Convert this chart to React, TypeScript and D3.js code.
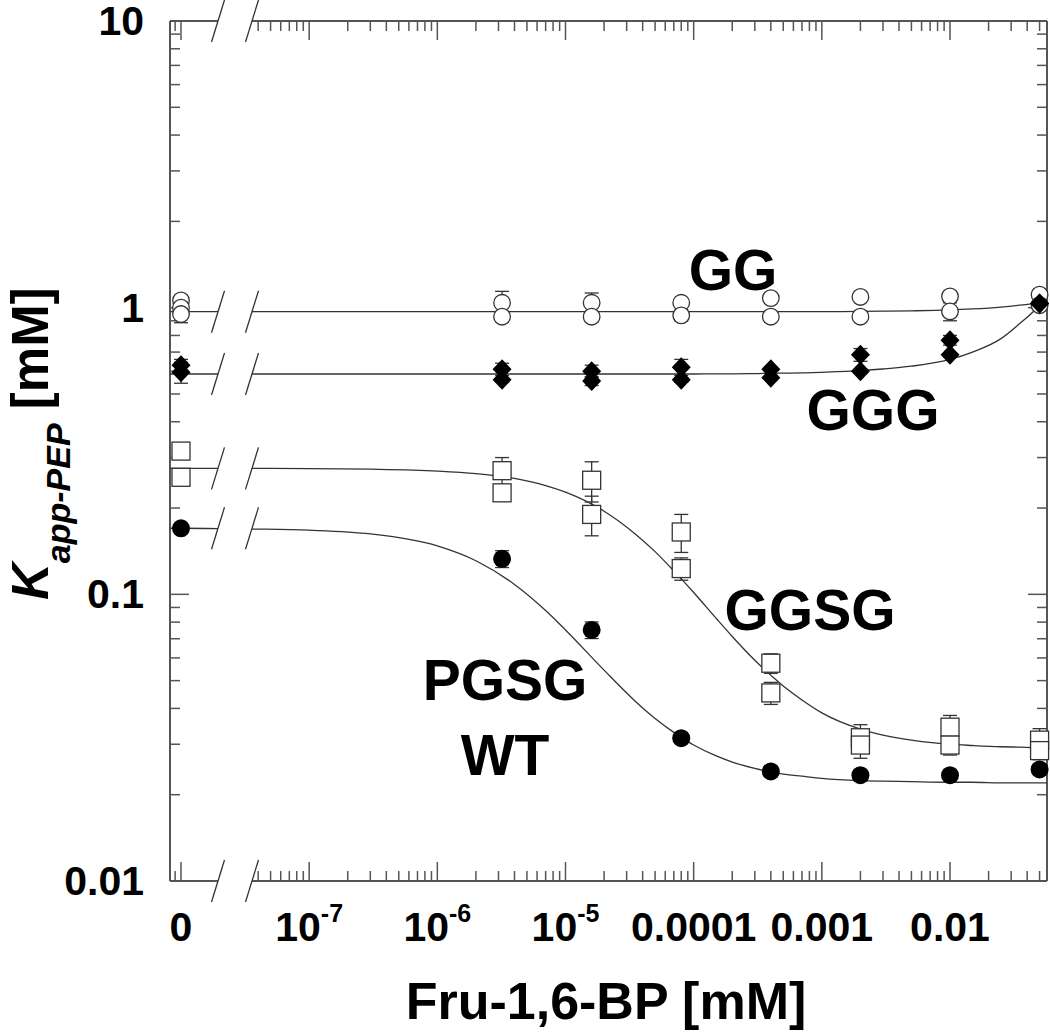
import * as d3 from "d3";

// Fru-1,6-BP concentrations (mM); 0 is drawn at the left of the axis break
const concs = [0, 3.2e-6, 1.6e-5, 8e-5, 4e-4, 2e-3, 1e-2, 5e-2];

// GG - open circles (two replicates + a third at zero)
const ggRep1 = [1.06, 1.04, 1.04, 1.04, 1.08, 1.09, 1.095, 1.11];
const ggRep2 = [0.95, 0.93, 0.93, 0.94, 0.93, 0.93, 0.97, 1.02];
const ggRep3 = [1.0, null, null, null, null, null, null, null];
const ggSd1 = [0.02, 0.1, 0.085, 0.02, 0.02, 0.02, 0.02, 0.02];
const ggSd2 = [0.064, 0.036, 0.036, 0.04, 0.01, 0.01, 0.07, 0.01];

// GGG - filled diamonds
const gggRep1 = [0.63, 0.61, 0.6, 0.62, 0.61, 0.685, 0.77, 1.035];
const gggRep2 = [0.595, 0.56, 0.555, 0.56, 0.57, 0.6, 0.685, 1.035];
const gggSd1 = [0.03, 0.03, 0.03, 0.04, 0.01, 0.035, 0.03, 0.01];
const gggSd2 = [0.05, 0.01, 0.02, 0.01, 0.01, 0.01, 0.01, 0.01];

// GGSG - open squares
const ggsgRep1 = [0.316, 0.27, 0.25, 0.165, 0.0575, 0.0316, 0.0344, 0.031];
const ggsgRep2 = [0.256, 0.226, 0.19, 0.123, 0.0453, 0.0298, 0.0298, 0.0285];
const ggsgSd1 = [0.012, 0.03, 0.04, 0.025, 0.0045, 0.0035, 0.0034, 0.003];
const ggsgSd2 = [0.005, 0.005, 0.03, 0.011, 0.004, 0.003, 0.0023, 0.002];

// PGSG (WT) - filled circles
const wtVals = [0.17, 0.133, 0.0751, 0.0315, 0.0241, 0.0234, 0.0234, 0.0245];
const wtSd = [0.004, 0.009, 0.005, 0.001, 0.001, 0.001, 0.001, 0.001];

// fitted curves
const fitX = [8e-9, 1e-8, 3.5e-8, 1e-7, 3e-7, 1e-6, 2e-6, 4e-6, 7e-6, 1e-5, 2e-5, 3.5e-5, 5e-5, 7e-5, 1e-4,
  1.5e-4, 2e-4, 3e-4, 5e-4, 7e-4, 1e-3, 2e-3, 3e-3, 5e-3, 1e-2, 1.5e-2, 2.5e-2, 3.5e-2, 5e-2, 5.75e-2];
const ggFit = [0.968, 0.968, 0.968, 0.968, 0.968, 0.968, 0.968, 0.968, 0.968, 0.968, 0.968, 0.968, 0.968, 0.968, 0.968,
  0.968, 0.968, 0.968, 0.968, 0.968, 0.968, 0.97, 0.972, 0.975, 0.982, 0.99, 1.005, 1.02, 1.04, 1.05];
const gggFit = [0.587, 0.587, 0.587, 0.587, 0.587, 0.587, 0.587, 0.587, 0.587, 0.587, 0.587, 0.587, 0.587, 0.587, 0.587,
  0.588, 0.588, 0.589, 0.591, 0.592, 0.595, 0.603, 0.611, 0.625, 0.66, 0.7, 0.78, 0.88, 1.02, 1.1];
const ggsgFit = [0.275, 0.275, 0.275, 0.2744, 0.2732, 0.2692, 0.2637, 0.2536, 0.2395, 0.2272, 0.195, 0.1625, 0.1409, 0.1207, 0.1015,
  0.0824, 0.0713, 0.0589, 0.0479, 0.0428, 0.0386, 0.0339, 0.0323, 0.031, 0.03, 0.0297, 0.0294, 0.0293, 0.0292, 0.0292];
const wtFit = [0.17, 0.17, 0.169, 0.1674, 0.1625, 0.1476, 0.131, 0.1083, 0.0878, 0.0751, 0.0544, 0.0424, 0.0369, 0.033, 0.0298,
  0.0273, 0.026, 0.0247, 0.0236, 0.0232, 0.0228, 0.0224, 0.0223, 0.0222, 0.0221, 0.0221, 0.022, 0.022, 0.022, 0.022];

// axis ticks
const xTickValues = [0, 1e-7, 1e-6, 1e-5, 1e-4, 1e-3, 1e-2];
const xTickLabels = [["0"], ["10", "-7"], ["10", "-6"], ["10", "-5"], ["0.0001"], ["0.001"], ["0.01"]];
const yTickValues = [0.01, 0.1, 1, 10];
const yTickLabels = ["0.01", "0.1", "1", "10"];

const labels = [
  { text: "GG", x: 733, y: 290 },
  { text: "GGG", x: 873, y: 430 },
  { text: "GGSG", x: 810, y: 630 },
  { text: "PGSG", x: 505, y: 700 },
  { text: "WT", x: 505, y: 775 },
];

const W = 1050, H = 1033;
const L = 170, R = 1047, T = 21, B = 881;
const GAP0 = 218, GAP1 = 252;
const ZERO_AT = 1e-8;
const FONT = "'Liberation Sans', Arial, Helvetica, sans-serif";
const INK = "#333";
const AXIS = "#555";

const xScale = d3.scaleLog().domain([1e-8, 1e-2]).range([181, 950]);
const yScale = d3.scaleLog().domain([0.01, 10]).range([B, T]);
const xPos = (c: number) => xScale(c === 0 ? ZERO_AT : c);

function Slash({ x, y }: { x: number; y: number }) {
  return <line x1={x - 6.5} y1={y + 21} x2={x + 6.5} y2={y - 21} stroke={INK} strokeWidth={1.3} />;
}

function FitCurve({ values }: { values: number[] }) {
  const line = d3.line<number>()
    .x((_, i) => xScale(fitX[i]))
    .y((v) => yScale(v))
    .curve(d3.curveMonotoneX);
  const y0 = yScale(values[0]);
  return (
    <g>
      <path d={line(values) ?? ""} fill="none" stroke={INK} strokeWidth={1.3} clipPath="url(#clipLeft)" />
      <path d={line(values) ?? ""} fill="none" stroke={INK} strokeWidth={1.3} clipPath="url(#clipRight)" />
      <Slash x={GAP0} y={y0} />
      <Slash x={GAP1} y={y0} />
    </g>
  );
}

function ErrorBars({ vals, sds }: { vals: (number | null)[]; sds: number[] }) {
  return (
    <g stroke={INK} strokeWidth={1.3}>
      {vals.map((v, i) => {
        if (v == null) return null;
        const x = xPos(concs[i]);
        const yHi = yScale(v + sds[i]);
        const yLo = yScale(v - sds[i]);
        return (
          <g key={i}>
            <line x1={x} x2={x} y1={yHi} y2={yLo} />
            <line x1={x - 7} x2={x + 7} y1={yHi} y2={yHi} />
            <line x1={x - 7} x2={x + 7} y1={yLo} y2={yLo} />
          </g>
        );
      })}
    </g>
  );
}

type Shape = "openCircle" | "diamond" | "square" | "dot";

function Markers({ vals, shape }: { vals: (number | null)[]; shape: Shape }) {
  return (
    <g>
      {vals.map((v, i) => {
        if (v == null) return null;
        const x = xPos(concs[i]);
        const y = yScale(v);
        if (shape === "openCircle")
          return <circle key={i} cx={x} cy={y} r={8.3} fill="#fff" stroke={INK} strokeWidth={1.3} />;
        if (shape === "dot")
          return <circle key={i} cx={x} cy={y} r={9} fill="#000" />;
        if (shape === "square")
          return <rect key={i} x={x - 9} y={y - 9} width={18} height={18} fill="#fff" stroke={INK} strokeWidth={1.3} />;
        return <path key={i} d={`M${x},${y - 10}L${x + 9.5},${y}L${x},${y + 10}L${x - 9.5},${y}Z`} fill="#000" />;
      })}
    </g>
  );
}

export default function App() {
  // x ticks: full log grid, minus what falls into the axis break
  const xMajor = [1e-8, 1e-7, 1e-6, 1e-5, 1e-4, 1e-3, 1e-2];
  const xMinor: number[] = [];
  for (let e = -9; e <= -2; e++) {
    for (let m = 2; m <= 9; m++) xMinor.push(m * Math.pow(10, e));
  }
  const inAxis = (px: number) => px > L + 2 && px < R - 2 && (px < GAP0 - 1 || px > GAP1 + 1);

  const yMajor = yTickValues;
  const yMinor: number[] = [];
  for (let e = -2; e <= 0; e++) {
    for (let m = 2; m <= 9; m++) yMinor.push(m * Math.pow(10, e));
  }

  const MAJ = 19, MIN = 10;

  return (
    <svg width={W} height={H} style={{ position: "absolute", left: 0, top: 0, background: "#fff" }}
      fontFamily={FONT} fontWeight="bold">
      <defs>
        <clipPath id="clipLeft"><rect x={L} y={0} width={GAP0 - L} height={H} /></clipPath>
        <clipPath id="clipRight"><rect x={GAP1} y={0} width={R - GAP1} height={H} /></clipPath>
      </defs>

      {/* frame */}
      <g stroke={AXIS} strokeWidth={2} fill="none">
        <line x1={L} x2={L} y1={T} y2={B} />
        <line x1={R} x2={R} y1={T} y2={B} />
        <line x1={L} x2={GAP0} y1={B} y2={B} />
        <line x1={GAP1} x2={R} y1={B} y2={B} />
        <line x1={L} x2={GAP0} y1={T} y2={T} />
        <line x1={GAP1} x2={R} y1={T} y2={T} />
      </g>
      <Slash x={GAP0} y={B} />
      <Slash x={GAP1} y={B} />
      <Slash x={GAP0} y={T} />
      <Slash x={GAP1} y={T} />

      {/* ticks */}
      <g stroke={AXIS} strokeWidth={1.5}>
        {xMajor.map((v) => {
          const x = xScale(v);
          return (
            <g key={"xM" + v}>
              <line x1={x} x2={x} y1={B} y2={B - MAJ} />
              <line x1={x} x2={x} y1={T} y2={T + MAJ} />
            </g>
          );
        })}
        {xMinor.filter((v) => inAxis(xScale(v))).map((v) => {
          const x = xScale(v);
          return (
            <g key={"xm" + v}>
              <line x1={x} x2={x} y1={B} y2={B - MIN} />
              <line x1={x} x2={x} y1={T} y2={T + MIN} />
            </g>
          );
        })}
        {yMajor.map((v) => {
          const y = yScale(v);
          return (
            <g key={"yM" + v}>
              <line x1={L} x2={L + MAJ} y1={y} y2={y} />
              <line x1={R} x2={R - MAJ} y1={y} y2={y} />
            </g>
          );
        })}
        {yMinor.map((v) => {
          const y = yScale(v);
          return (
            <g key={"ym" + v}>
              <line x1={L} x2={L + MIN} y1={y} y2={y} />
              <line x1={R} x2={R - MIN} y1={y} y2={y} />
            </g>
          );
        })}
      </g>

      {/* tick labels */}
      <g fill="#000" fontSize={41}>
        {xTickValues.map((v, i) => {
          const lab = xTickLabels[i];
          return (
            <text key={"xl" + i} x={xPos(v)} y={941} textAnchor="middle">
              {lab[0]}
              {lab[1] ? <tspan fontSize={25} dy={-19}>{lab[1]}</tspan> : null}
            </text>
          );
        })}
        {yTickValues.map((v, i) => (
          <text key={"yl" + i} x={144} y={yScale(v) + 14} textAnchor="end">{yTickLabels[i]}</text>
        ))}
      </g>

      {/* axis titles */}
      <text x={606} y={1019} textAnchor="middle" fontSize={52} fill="#000">Fru-1,6-BP [mM]</text>
      <text transform="translate(48,600) rotate(-90)" fontSize={51} fill="#000">
        <tspan fontStyle="italic">K</tspan>
        <tspan fontStyle="italic" fontSize={34} dy={22}>app-PEP</tspan>
        <tspan dy={-22}>{" [mM]"}</tspan>
      </text>

      {/* fitted curves */}
      <FitCurve values={ggFit} />
      <FitCurve values={gggFit} />
      <FitCurve values={ggsgFit} />
      <FitCurve values={wtFit} />

      {/* error bars */}
      <ErrorBars vals={ggRep1} sds={ggSd1} />
      <ErrorBars vals={ggRep2} sds={ggSd2} />
      <ErrorBars vals={gggRep1} sds={gggSd1} />
      <ErrorBars vals={gggRep2} sds={gggSd2} />
      <ErrorBars vals={ggsgRep1} sds={ggsgSd1} />
      <ErrorBars vals={ggsgRep2} sds={ggsgSd2} />
      <ErrorBars vals={wtVals} sds={wtSd} />

      {/* markers */}
      <Markers vals={ggRep1} shape="openCircle" />
      <Markers vals={ggRep3} shape="openCircle" />
      <Markers vals={ggRep2} shape="openCircle" />
      <Markers vals={ggsgRep1} shape="square" />
      <Markers vals={ggsgRep2} shape="square" />
      <Markers vals={wtVals} shape="dot" />
      <Markers vals={gggRep1} shape="diamond" />
      <Markers vals={gggRep2} shape="diamond" />

      {/* series labels */}
      <g fontSize={57} fill="#000" textAnchor="middle">
        {labels.map((d) => (
          <text key={d.text} x={d.x} y={d.y}>{d.text}</text>
        ))}
      </g>
    </svg>
  );
}
